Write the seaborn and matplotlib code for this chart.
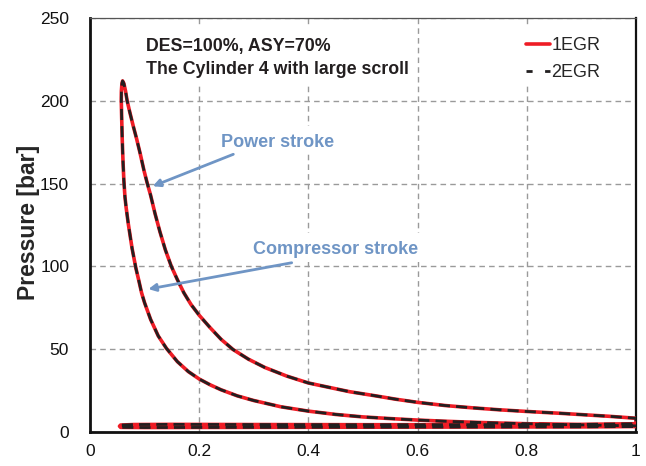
import matplotlib
matplotlib.use("Agg")
import matplotlib.pyplot as plt
from matplotlib.ticker import MultipleLocator
from matplotlib.patches import Rectangle
import seaborn as sns
import pandas as pd

# ---- data ----
# closed P-V loop: compression (from BDC) -> peak -> expansion -> exhaust -> intake
comp_v = [1.0, 0.95, 0.9, 0.85, 0.8, 0.75, 0.7, 0.65, 0.6, 0.55, 0.5, 0.45, 0.4, 0.35,
          0.3, 0.27, 0.24, 0.22, 0.2, 0.18, 0.16, 0.14, 0.125, 0.111, 0.1, 0.0945, 0.089,
          0.084, 0.077, 0.070, 0.066, 0.064, 0.062, 0.0605, 0.059, 0.058, 0.0573, 0.0575,
          0.0585]
comp_p = [3.7, 3.95, 4.3, 4.6, 5.0, 5.4, 5.9, 6.5, 7.2, 8.1, 9.1, 10.6, 12.6, 15.2,
          19.0, 21.8, 25.5, 28.5, 32.0, 36.5, 42.5, 50.5, 58.0, 68.0, 78.0, 84.0, 92.0,
          99.0, 111.0, 126.0, 136.0, 142.0, 152.0, 163.0, 177.0, 190.0, 200.0, 206.0,
          210.5]
exp_v = [0.0597, 0.062, 0.065, 0.068, 0.073, 0.079, 0.0854, 0.092, 0.0988, 0.105, 0.111,
         0.119, 0.128, 0.138, 0.149, 0.16, 0.172, 0.185, 0.2, 0.22, 0.24, 0.262, 0.29,
         0.32, 0.36, 0.4, 0.44, 0.476, 0.52, 0.56, 0.6, 0.65, 0.7, 0.75, 0.8, 0.861, 0.9,
         0.95, 1.0]
exp_p = [212.0, 210.5, 206.0, 200.0, 193.0, 185.0, 177.0, 168.0, 158.0, 150.0, 143.0,
         132.0, 121.0, 110.0, 100.0, 92.0, 84.0, 77.0, 70.5, 63.0, 56.0, 49.8, 44.0,
         39.0, 33.8, 29.6, 26.8, 24.3, 22.0, 19.8, 17.9, 16.0, 14.6, 13.4, 12.4, 11.3,
         10.5, 9.5, 8.3]
gas_v = [1.0, 0.9, 0.7, 0.5, 0.3, 0.15, 0.08, 0.056, 0.054, 0.056, 0.1, 0.3, 0.5, 0.7,
         0.9, 1.0]
gas_p = [5.0, 4.6, 4.4, 4.4, 4.5, 4.6, 4.5, 4.2, 3.5, 2.8, 2.7, 2.8, 2.9, 3.0, 3.1, 3.3]

volume_1egr = comp_v + exp_v + gas_v
pressure_1egr = comp_p + exp_p + gas_p
volume_2egr = list(volume_1egr)
pressure_2egr = list(pressure_1egr)

series_labels = ["1EGR", "2EGR"]
annot_top = ["DES=100%, ASY=70%", "The Cylinder 4 with large scroll"]
power_label = "Power stroke"
comp_label = "Compressor stroke"
x_ticks = [0, 0.2, 0.4, 0.6, 0.8, 1]
x_tick_labels = ["0", "0.2", "0.4", "0.6", "0.8", "1"]
y_ticks = [0, 50, 100, 150, 200, 250]

# ---- figure ----
sns.set_style("white")
plt.rcParams["font.family"] = ["Liberation Sans", "DejaVu Sans"]

W, H = 646, 466
fig = plt.figure(figsize=(W / 100, H / 100), dpi=100)
AX_L, AX_R, AX_T, AX_B = 90, 636, 18, 432
ax = fig.add_axes([AX_L / W, 1 - AX_B / H, (AX_R - AX_L) / W, (AX_B - AX_T) / H])


def ax_frac(px, py):
    return (px - AX_L) / (AX_R - AX_L), (AX_B - py) / (AX_B - AX_T)


df1 = pd.DataFrame({"v": volume_1egr, "p": pressure_1egr})
df2 = pd.DataFrame({"v": volume_2egr, "p": pressure_2egr})
sns.lineplot(data=df1, x="v", y="p", sort=False, estimator=None, color="#ee1c25",
             lw=2.6, ax=ax, label=series_labels[0], zorder=3)
sns.lineplot(data=df2, x="v", y="p", sort=False, estimator=None, color="#231f20",
             lw=2.0, ax=ax, label=series_labels[1], zorder=4)
ax.lines[1].set_dashes([4, 2.2])

ax.set_xlim(0, 1)
ax.set_ylim(0, 250)
ax.set_xticks(x_ticks)
ax.set_xticklabels(x_tick_labels)
ax.set_yticks(y_ticks)
ax.xaxis.set_minor_locator(MultipleLocator(0.04))
ax.yaxis.set_minor_locator(MultipleLocator(10))
ax.set_xlabel("")
ax.set_ylabel("Pressure [bar]", fontsize=16.5, fontweight="bold")
ax.yaxis.label.set_va("center")
ax.yaxis.set_label_coords(*ax_frac(29, 222))

ax.tick_params(axis="both", which="major", direction="inout", length=6, width=1.5,
               labelsize=12.5, colors="#111111")
ax.tick_params(axis="y", which="major", pad=12)
ax.tick_params(axis="x", which="major", pad=6)
ax.tick_params(axis="both", which="minor", direction="in", length=4, width=1.3,
               colors="#111111")
ax.tick_params(axis="both", which="both", top=False, right=False)

ax.grid(True, which="major", color="#9a9a9a", linestyle=(0, (4, 3)), linewidth=1.0)
ax.set_axisbelow(True)

for side in ["left", "bottom"]:
    ax.spines[side].set_linewidth(2.0)
    ax.spines[side].set_color("#111111")
ax.spines["right"].set_linewidth(1.6)
ax.spines["right"].set_color("#111111")
ax.spines["top"].set_linewidth(0.9)
ax.spines["top"].set_color("#555555")


# white text boxes hiding the grid (as in the reference)
def white_box(x0, y0, x1, y1):
    fx0, fy1 = ax_frac(x0, y0)
    fx1, fy0 = ax_frac(x1, y1)
    ax.add_patch(Rectangle((fx0, fy0), fx1 - fx0, fy1 - fy0, transform=ax.transAxes,
                           facecolor="white", edgecolor="none", zorder=1.5))


white_box(140, 27, 416, 85)
white_box(518, 27, 612, 83)
white_box(215, 126, 342, 153)
white_box(248, 233, 424, 262)

leg = ax.legend(loc="upper left", bbox_to_anchor=ax_frac(526, 37), frameon=False,
                fontsize=13, handlelength=1.35, handletextpad=0.05, labelspacing=0.58,
                borderpad=0, borderaxespad=0)
leg.get_lines()[1].set_dashes([2.2, 4.5])

fx, fy = ax_frac(146, 47)
ax.text(fx, fy, annot_top[0], transform=ax.transAxes, fontsize=12.8,
        fontweight="bold", color="#231f20", va="center", ha="left", zorder=5)
fx, fy = ax_frac(146, 70)
ax.text(fx, fy, annot_top[1], transform=ax.transAxes, fontsize=12.8,
        fontweight="bold", color="#231f20", va="center", ha="left", zorder=5)

blue = "#6f95c5"
arrow_kw = dict(arrowstyle="-|>", color=blue, lw=2.0, shrinkA=0, shrinkB=0,
                mutation_scale=11)
ax.text(0.344, 174.8, power_label, fontsize=13, fontweight="bold", color=blue,
        ha="center", va="center", zorder=5)
ax.annotate("", xy=(0.1148, 148.4), xytext=(0.2625, 167.7), arrowprops=arrow_kw, zorder=5)
ax.text(0.4496, 110.0, comp_label, fontsize=13, fontweight="bold", color=blue,
        ha="center", va="center", zorder=5)
ax.annotate("", xy=(0.1068, 86.3), xytext=(0.3694, 102.2), arrowprops=arrow_kw, zorder=5)

fig.savefig("out.png", dpi=100)
